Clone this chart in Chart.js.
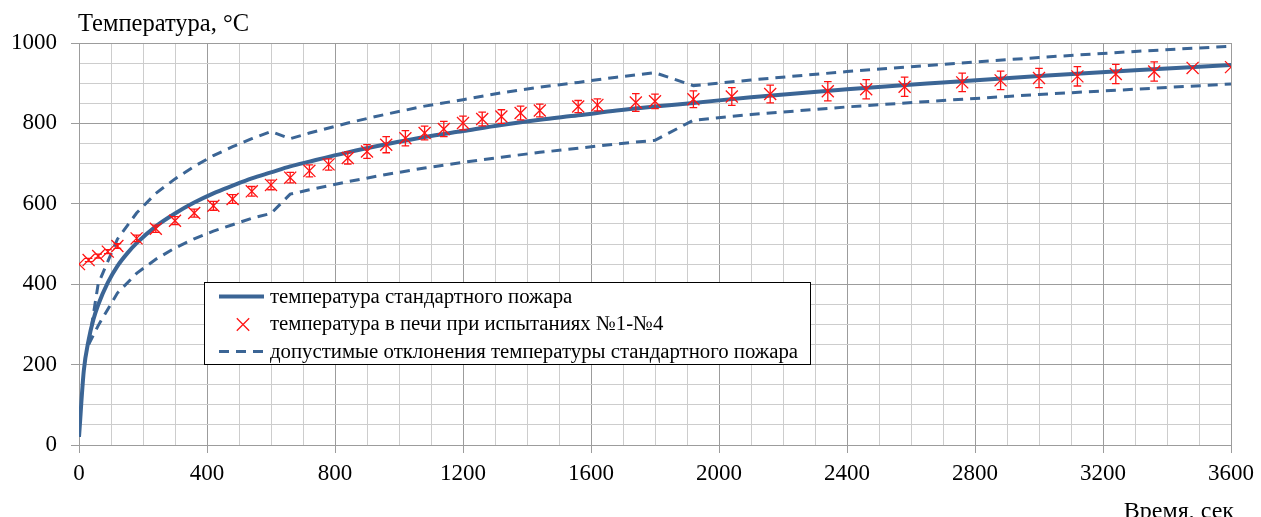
<!DOCTYPE html>
<html>
<head>
<meta charset="utf-8">
<script src="https://cdn.jsdelivr.net/npm/chart.js@4.4.1/dist/chart.umd.min.js"></script>
<style>
  html, body { margin: 0; padding: 0; background: #ffffff; }
  #wrap { width: 1261px; height: 517px; position: relative; }
</style>
</head>
<body>
<div id="wrap"><canvas id="c" width="1261" height="517"></canvas></div>
<script>
// Стандартный температурный режим пожара, время в секундах
const stdTime = [0, 15, 30, 45, 60, 90, 120, 150, 180, 240, 300, 360, 420, 480, 540, 600, 660, 720, 840, 960, 1080, 1200, 1320, 1440, 1560, 1680, 1800, 1920, 2100, 2400, 2700, 3000, 3300, 3600];
const stdTemp = [20, 185, 261, 312, 349, 404, 445, 476, 502, 544, 576, 603, 626, 645, 663, 678, 693, 705, 728, 748, 766, 781, 796, 809, 820, 832, 842, 851, 865, 885, 902, 918, 932, 945];

// Допустимые отклонения (верхняя и нижняя границы)
const limTime  = [30, 60, 120, 180, 240, 300, 360, 420, 480, 540, 600, 660, 720, 840, 960, 1080, 1200, 1320, 1440, 1560, 1680, 1800, 1920, 2100, 2400, 2700, 3000, 3300, 3600];
const limUpper = [250, 401, 512, 577, 626, 662, 693, 720, 742, 762, 780, 762, 776, 801, 823, 843, 859, 876, 890, 902, 915, 926, 894, 908, 929, 947, 964, 979, 992];
const limLower = [250, 297, 378, 427, 462, 490, 513, 532, 548, 564, 576, 624, 635, 655, 673, 689, 703, 716, 728, 738, 749, 758, 808, 822, 841, 857, 872, 885, 898];

// Температура в печи (среднее по испытаниям №1-№4) и разброс
const testTime = [0, 30, 60, 90, 120, 180, 240, 300, 360, 420, 480, 540, 600, 660, 720, 780, 840, 900, 960, 1020, 1080, 1140, 1200, 1260, 1320, 1380, 1440, 1560, 1620, 1740, 1800, 1920, 2040, 2160, 2340, 2460, 2580, 2760, 2880, 3000, 3120, 3240, 3360, 3480, 3600];
const testTemp = [450, 460, 470, 481, 495, 514, 538, 558, 577, 595, 612, 631, 647, 665, 682, 698, 714, 730, 747, 763, 776, 786, 801, 811, 817, 826, 832, 842, 846, 852, 855, 860, 867, 873, 880, 885, 891, 902, 907, 913, 917, 923, 929, 938, 940];
const testErr  = [0, 4, 5, 5, 6, 8, 9, 10, 10, 11, 11, 12, 12, 13, 15, 14, 15, 17, 20, 19, 17, 19, 17, 17, 17, 17, 16, 15, 15, 22, 18, 21, 22, 22, 24, 24, 24, 23, 23, 24, 24, 24, 24, 0, 0];

// Подписи делений
const xTickLabels = [0, 400, 800, 1200, 1600, 2000, 2400, 2800, 3200, 3600];
const yTickLabels = [0, 200, 400, 600, 800, 1000];

const yTitle = 'Температура, °С';
const xTitle = 'Время, сек';
const seriesNames = [
  'температура стандартного пожара',
  'температура в печи при испытаниях №1-№4',
  'допустимые отклонения температуры стандартного пожара'
];

const BLUE = '#3b6595';
const RED = 'rgb(255,20,20)';
const GRID_MAJOR = '#9c9c9c';
const GRID_MINOR = '#cdcdcd';
const FONT = "'Liberation Serif', 'Times New Roman', serif";

const toXY = (xs, ys) => xs.map((x, i) => ({ x: x, y: ys[i] }));

// Вертикальные отрезки разброса с засечками
const errorBars = {
  id: 'errorBars',
  afterDatasetsDraw(chart) {
    const xs = chart.scales.x, ys = chart.scales.y, ctx = chart.ctx;
    ctx.save();
    ctx.strokeStyle = RED;
    ctx.lineWidth = 1.3;
    testTime.forEach((t, i) => {
      const e = testErr[i];
      if (!e) return;
      const x = xs.getPixelForValue(t);
      const yTop = ys.getPixelForValue(testTemp[i] + e);
      const yBot = ys.getPixelForValue(testTemp[i] - e);
      ctx.beginPath();
      ctx.moveTo(x, yTop); ctx.lineTo(x, yBot);
      ctx.moveTo(x - 3.8, yTop); ctx.lineTo(x + 3.8, yTop);
      ctx.moveTo(x - 3.8, yBot); ctx.lineTo(x + 3.8, yBot);
      ctx.stroke();
    });
    ctx.restore();
  }
};

// Заголовки осей и легенда внутри области построения
const annotations = {
  id: 'annotations',
  afterDraw(chart) {
    const ctx = chart.ctx, area = chart.chartArea;
    ctx.save();
    ctx.fillStyle = '#000';
    ctx.font = '24.5px ' + FONT;
    ctx.textBaseline = 'alphabetic';
    ctx.textAlign = 'left';
    ctx.fillText(yTitle, area.left - 1, 31);
    ctx.font = '24px ' + FONT;
    ctx.textAlign = 'right';
    ctx.fillText(xTitle, area.right + 3, 518);

    // рамка легенды
    const bx = 204.5, by = 282.5, bw = 606, bh = 82;
    ctx.fillStyle = '#fff';
    ctx.fillRect(bx, by, bw, bh);
    ctx.strokeStyle = '#000';
    ctx.lineWidth = 1;
    ctx.strokeRect(bx, by, bw, bh);

    const rows = [
      { sym: 296.5, base: 302.5 },
      { sym: 324.5, base: 330 },
      { sym: 351.5, base: 357.5 }
    ];
    // сплошная линия
    ctx.strokeStyle = BLUE;
    ctx.lineWidth = 4;
    ctx.beginPath(); ctx.moveTo(219, rows[0].sym); ctx.lineTo(264, rows[0].sym); ctx.stroke();
    // маркер
    ctx.strokeStyle = RED;
    ctx.lineWidth = 1.3;
    const cx = 243, cy = rows[1].sym, r = 6.2;
    ctx.beginPath();
    ctx.moveTo(cx - r, cy - r); ctx.lineTo(cx + r, cy + r);
    ctx.moveTo(cx + r, cy - r); ctx.lineTo(cx - r, cy + r);
    ctx.stroke();
    // пунктир
    ctx.strokeStyle = BLUE;
    ctx.lineWidth = 3;
    ctx.setLineDash([10, 7]);
    ctx.beginPath(); ctx.moveTo(219, rows[2].sym); ctx.lineTo(264, rows[2].sym); ctx.stroke();
    ctx.setLineDash([]);

    ctx.fillStyle = '#000';
    ctx.textAlign = 'left';
    ctx.font = '20.8px ' + FONT;
    seriesNames.forEach((name, i) => ctx.fillText(name, 270, rows[i].base));
    ctx.restore();
  }
};

const isMajorX = v => xTickLabels.includes(v);
const isMajorY = v => yTickLabels.includes(v);

new Chart(document.getElementById('c'), {
  type: 'scatter',
  data: {
    datasets: [
      {
        label: seriesNames[0],
        data: toXY(stdTime, stdTemp),
        showLine: true,
        borderColor: BLUE,
        borderWidth: 4,
        pointRadius: 0,
        cubicInterpolationMode: 'monotone',
        order: 2
      },
      {
        label: seriesNames[1],
        data: toXY(testTime, testTemp),
        showLine: false,
        pointStyle: 'crossRot',
        pointRadius: 8.5,
        pointBorderColor: RED,
        pointBorderWidth: 1.3,
        borderColor: RED,
        order: 1
      },
      {
        label: seriesNames[2],
        data: toXY(limTime, limUpper),
        showLine: true,
        borderColor: BLUE,
        borderWidth: 3,
        borderDash: [10, 7],
        pointRadius: 0,
        tension: 0,
        order: 3
      },
      {
        label: seriesNames[2],
        data: toXY(limTime, limLower),
        showLine: true,
        borderColor: BLUE,
        borderWidth: 3,
        borderDash: [10, 7],
        pointRadius: 0,
        tension: 0,
        order: 3
      }
    ]
  },
  options: {
    responsive: false,
    animation: false,
    devicePixelRatio: 1,
    layout: { padding: { top: 43, right: 26, left: 0, bottom: 0 } },
    plugins: {
      legend: { display: false },
      tooltip: { enabled: false }
    },
    scales: {
      x: {
        type: 'linear',
        min: 0, max: 3600,
        afterFit: s => { s.height = 72; },
        border: { color: GRID_MAJOR, width: 1 },
        grid: {
          color: c => isMajorX(c.tick.value) ? GRID_MAJOR : GRID_MINOR,
          tickColor: c => isMajorX(c.tick.value) ? GRID_MAJOR : 'rgba(0,0,0,0)',
          tickLength: 8,
          lineWidth: 1
        },
        ticks: {
          stepSize: 100,
          autoSkip: false,
          maxRotation: 0,
          padding: 7,
          color: '#000',
          font: { family: FONT, size: 23 },
          callback: v => isMajorX(v) ? String(v) : ''
        }
      },
      y: {
        type: 'linear',
        min: 0, max: 1000,
        afterFit: s => { s.width = 79; },
        border: { color: GRID_MAJOR, width: 1 },
        grid: {
          color: c => isMajorY(c.tick.value) ? GRID_MAJOR : GRID_MINOR,
          tickColor: c => isMajorY(c.tick.value) ? GRID_MAJOR : 'rgba(0,0,0,0)',
          tickLength: 8,
          lineWidth: 1
        },
        ticks: {
          stepSize: 50,
          autoSkip: false,
          padding: 14,
          color: '#000',
          font: { family: FONT, size: 23 },
          callback: v => isMajorY(v) ? String(v) : ''
        }
      }
    }
  },
  plugins: [errorBars, annotations]
});
</script>
</body>
</html>
